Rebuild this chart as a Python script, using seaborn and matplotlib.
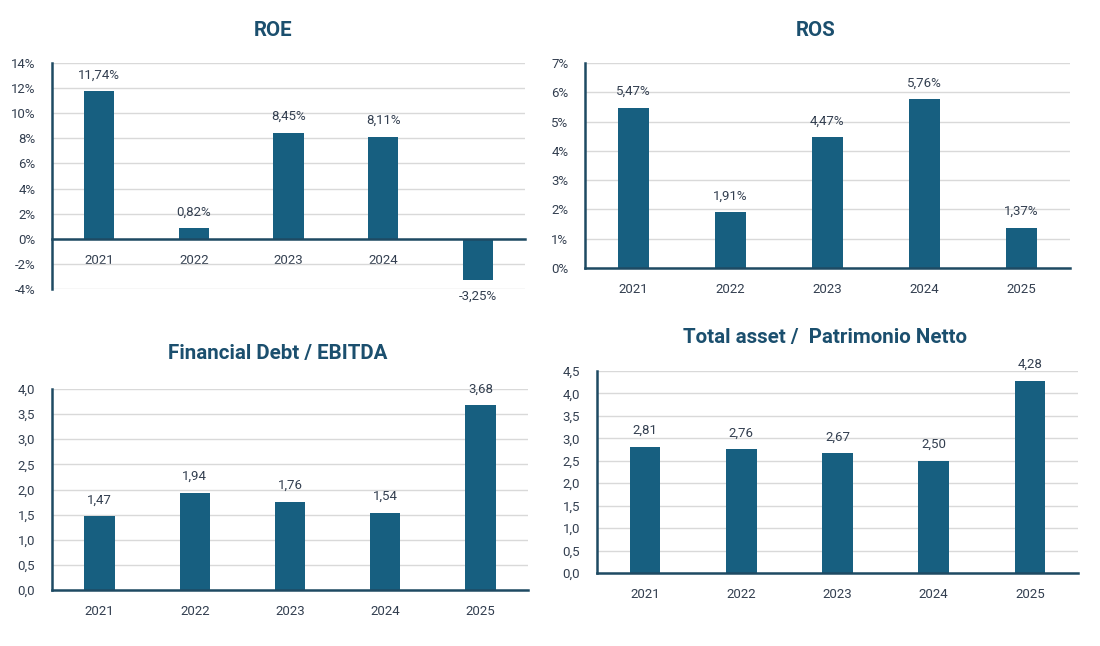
import matplotlib
matplotlib.use("Agg")
import matplotlib.pyplot as plt
import seaborn as sns
import pandas as pd
from matplotlib.ticker import FixedLocator

years = ["2021", "2022", "2023", "2024", "2025"]
roe = [11.74, 0.82, 8.45, 8.11, -3.25]
ros = [5.47, 1.91, 4.47, 5.76, 1.37]
debt_ebitda = [1.47, 1.94, 1.76, 1.54, 3.68]
asset_pn = [2.81, 2.76, 2.67, 2.50, 4.28]

BAR = "#175F80"
TITLE = "#1B4F6E"
TEXT = "#333F50"
SPINE = "#1E4A63"
GRID = "#D9D9D9"

sns.set_theme(style="white")
plt.rcParams['font.family'] = ['Roboto', 'DejaVu Sans']

W, H = 1100, 646
fig = plt.figure(figsize=(W / 100, H / 100), dpi=100)


def px_axes(x0, x1, ytop, ybot):
    return fig.add_axes([x0 / W, 1 - ybot / H, (x1 - x0) / W, (ybot - ytop) / H])


def draw(ax, vals, ymin, ymax, step, pct, title, tx, ty):
    df = pd.DataFrame({"year": years, "val": vals})
    sns.barplot(data=df, x="year", y="val", color=BAR, width=0.32,
                saturation=1, linewidth=0, ax=ax, zorder=2)
    ax.set_ylim(ymin, ymax)
    ax.set_xlim(-0.5, 4.5)
    n = int(round((ymax - ymin) / step))
    ticks = [ymin + i * step for i in range(n + 1)]
    ax.yaxis.set_major_locator(FixedLocator(ticks))
    if pct:
        ax.set_yticklabels([f"{t:.0f}%" for t in ticks])
        labels = [f"{v:.2f}%".replace(".", ",") for v in vals]
    else:
        ax.set_yticklabels([f"{t:.1f}".replace(".", ",") for t in ticks])
        labels = [f"{v:.2f}".replace(".", ",") for v in vals]
    ax.bar_label(ax.containers[0], labels=labels, padding=7, fontsize=9.5, color=TEXT)
    ax.grid(axis="y", color=GRID, linewidth=1, zorder=0)
    ax.set_axisbelow(True)
    for s in ["top", "right"]:
        ax.spines[s].set_visible(False)
    for s in ["left", "bottom"]:
        ax.spines[s].set_color(SPINE)
        ax.spines[s].set_linewidth(1.8)
        ax.spines[s].set_zorder(4)
    if ymin < 0:
        ax.spines["bottom"].set_position(("data", 0))
    ax.tick_params(axis="both", length=0, labelsize=9.5, colors=TEXT)
    ax.tick_params(axis="x", pad=11)
    ax.tick_params(axis="y", pad=12)
    ax.set_xlabel("")
    ax.set_ylabel("")
    fig.text(tx / W, 1 - ty / H, title, ha="center", va="center",
             fontsize=14.8, fontweight="bold", color=TITLE)


ax1 = px_axes(52, 525, 63, 289)
draw(ax1, roe, -4, 14, 2, True, "ROE", 273, 30)

ax2 = px_axes(585, 1070, 63, 268)
draw(ax2, ros, 0, 7, 1, True, "ROS", 816, 30)

ax3 = px_axes(52, 528, 389, 590)
draw(ax3, debt_ebitda, 0, 4.0, 0.5, False, "Financial Debt / EBITDA", 278, 354)

ax4 = px_axes(597, 1078, 371, 573)
draw(ax4, asset_pn, 0, 4.5, 0.5, False, "Total asset /  Patrimonio Netto", 825, 337)

fig.savefig("out.png", dpi=100)
